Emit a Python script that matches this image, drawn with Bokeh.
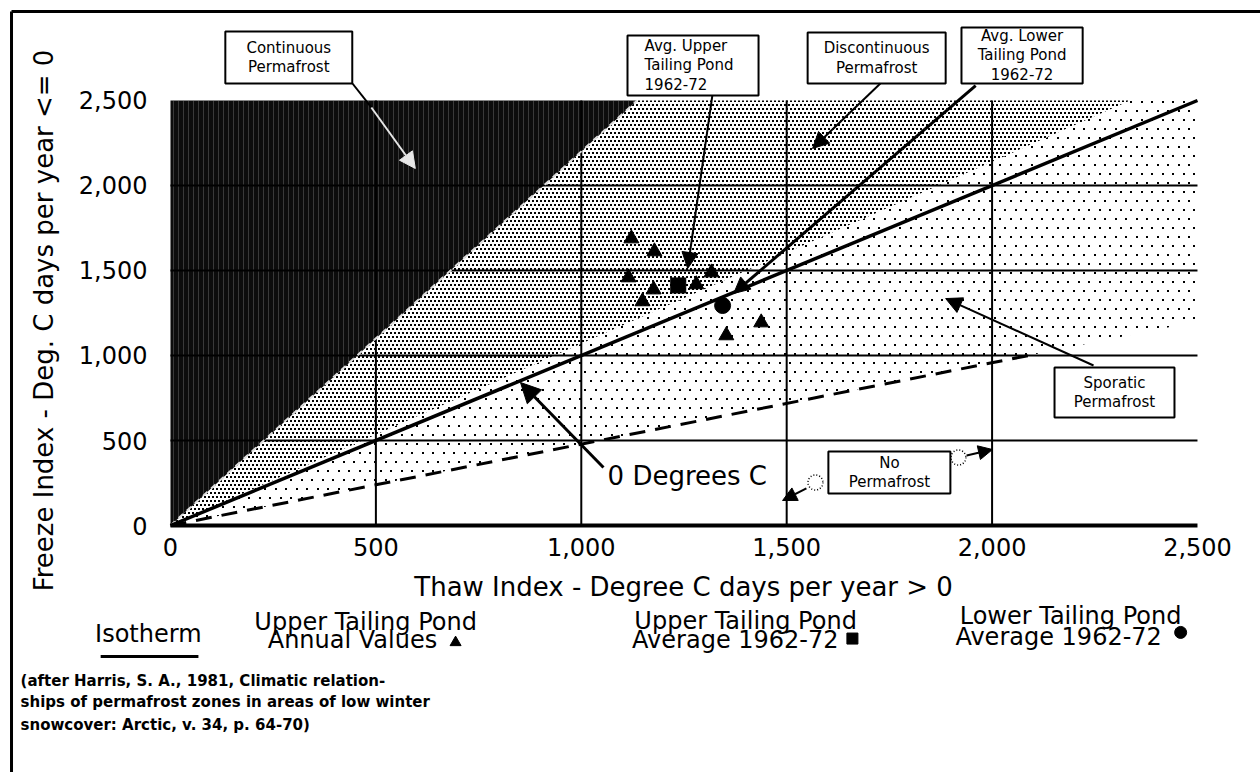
import math
import base64
import struct
import zlib
from bokeh.plotting import figure
from bokeh.models import Arrow, NormalHead, FixedTicker, NumeralTickFormatter, ImageURLTexture
from bokeh.core.properties import value
from bokeh.embed import file_html
from bokeh.resources import INLINE

FONT = "DejaVu Sans"

# ---------------- data ----------------
axis_ticks = [0, 500, 1000, 1500, 2000, 2500]
grid_values = [500, 1000, 1500, 2000]
axis_max = 2500

# Upper tailing pond annual values (thaw index, freeze index)
annual_thaw = [1122, 1178, 1115, 1176, 1149, 1280, 1317, 1438, 1353]
annual_freeze = [1688, 1612, 1459, 1388, 1318, 1418, 1488, 1194, 1118]
# averages 1962-72
upper_avg_thaw = [1236]
upper_avg_freeze = [1412]
lower_avg_thaw = [1344]
lower_avg_freeze = [1294]

# 0 degree C isotherm
isotherm_thaw = [0, 2500]
isotherm_freeze = [0, 2500]

# permafrost zones
continuous_thaw = [0, 0, 1136]
continuous_freeze = [0, 2500, 2500]
discontinuous_thaw = [0, 1136, 2336]
discontinuous_freeze = [0, 2500, 2500]
sporadic_thaw = [0, 2336, 2500, 2500, 2110]
sporadic_freeze = [0, 2500, 2500, 1200, 1010]
no_pf_thaw = [0, 2110]
no_pf_freeze = [0, 1010]


# ---------------- dot textures (small PNG tiles) ----------------
def dot_tile(w, h, dots, size):
    rows = []
    for yy in range(h):
        row = bytearray()
        for xx in range(w):
            on = any(dx <= xx < dx + size and dy <= yy < dy + size for dx, dy in dots)
            row += bytes([0, 0, 0, 255]) if on else bytes([0, 0, 0, 0])
        rows.append(b"\x00" + bytes(row))
    raw = b"".join(rows)

    def chunk(tag, data):
        return (struct.pack(">I", len(data)) + tag + data +
                struct.pack(">I", zlib.crc32(tag + data) & 0xFFFFFFFF))

    png = (b"\x89PNG\r\n\x1a\n" +
           chunk(b"IHDR", struct.pack(">IIBBBBB", w, h, 8, 6, 0, 0, 0)) +
           chunk(b"IDAT", zlib.compress(raw)) + chunk(b"IEND", b""))
    return "data:image/png;base64," + base64.b64encode(png).decode()


sparse_tex = ImageURLTexture(url=dot_tile(21, 18, [(2, 2), (12, 2), (7, 11), (17, 11)], 2))
dense_tex = ImageURLTexture(url=dot_tile(8, 8, [(0, 0), (4, 0), (2, 4), (6, 4)], 2))

# ---------------- figure ----------------
# the plotting frame covers the whole page; the axes sit at thaw = 0 / freeze = 0
p = figure(width=1260, height=772, x_range=(-413.8, 2653.4), y_range=(-1452.9, 3088.2),
           min_border=0, output_backend="svg", toolbar_location=None, title=None)
p.xgrid.visible = False
p.ygrid.visible = False
p.outline_line_color = None
p.background_fill_color = "white"
p.border_fill_color = "white"

for ax in (p.xaxis[0], p.yaxis[0]):
    ax.fixed_location = 0
    ax.ticker = FixedTicker(ticks=axis_ticks)
    ax.formatter = NumeralTickFormatter(format="0,0")
    ax.axis_line_color = None
    ax.major_tick_line_color = None
    ax.minor_tick_line_color = None
    ax.major_tick_out = 0
    ax.major_tick_in = 0
    ax.minor_tick_out = 0
    ax.minor_tick_in = 0
    ax.major_label_text_font = FONT
    ax.major_label_text_font_size = "24px"
    ax.major_label_text_color = "black"
p.xaxis.major_label_standoff = 12
p.yaxis.major_label_standoff = 23

# ---------------- zones ----------------
p.patch(sporadic_thaw, sporadic_freeze, fill_color="white", line_color=None,
        hatch_pattern="sparse", hatch_extra={"sparse": sparse_tex}, hatch_color="black")
p.patch(discontinuous_thaw, discontinuous_freeze, fill_color="white", line_color=None,
        hatch_pattern="dense", hatch_extra={"dense": dense_tex}, hatch_color="black")
p.patch(continuous_thaw, continuous_freeze, fill_color="#0c0c0c", line_color=None,
        hatch_pattern="vertical_line", hatch_color="#8a8a8a", hatch_scale=5,
        hatch_weight=0.6, hatch_alpha=0.6)

# grid lines (limited to the 0-2500 field)
n = len(grid_values)
p.segment(x0=grid_values, y0=[0] * n, x1=grid_values, y1=[axis_max] * n,
          line_color="black", line_width=2)
p.segment(x0=[0] * n, y0=grid_values, x1=[axis_max] * n, y1=grid_values,
          line_color="black", line_width=2)
# x axis line
p.segment(x0=[0], y0=[0], x1=[axis_max], y1=[0], line_color="black", line_width=4)

# zone boundaries
p.line([0, continuous_thaw[2]], [0, continuous_freeze[2]], line_color="#dddddd",
       line_width=2, line_dash="6 5")
p.line(no_pf_thaw, no_pf_freeze, line_color="black", line_width=3, line_dash="16 10")
p.line(isotherm_thaw, isotherm_freeze, line_color="black", line_width=3.5)

# data points
p.scatter(annual_thaw, annual_freeze, marker="triangle", size=15, color="black")
p.scatter(upper_avg_thaw, upper_avg_freeze, marker="square", size=15, color="black")
p.scatter(lower_avg_thaw, lower_avg_freeze, marker="circle", size=16, color="black")

# ---------------- axis titles ----------------
p.text([1249], [-359], text=["Thaw Index - Degree C days per year > 0"],
       text_align="center", text_baseline="middle", text_font=value(FONT),
       text_font_size="26px", text_color="black")
p.text([-307], [1206], text=["Freeze Index - Deg. C days per year <= 0"], angle=math.pi / 2,
       text_align="center", text_baseline="middle", text_font=value(FONT),
       text_font_size="26px", text_color="black")

# ---------------- callouts ----------------
box_x = [288, 1272, 1719, 2073, 2298, 1750]
box_y = [2753, 2706, 2750, 2765, 782, 312]
box_w = [309, 319, 336, 295, 292, 297]
box_h = [306, 353, 300, 329, 294, 247]
p.rect(box_x, box_y, box_w, box_h, fill_color="white", line_color="black", line_width=2)

center_texts = ["Continuous\nPermafrost", "Discontinuous\nPermafrost",
                "Avg. Lower\nTailing Pond\n1962-72", "Sporatic\nPermafrost",
                "No\nPermafrost"]
p.text([288, 1719, 2073, 2298, 1750], [2753, 2750, 2765, 782, 312], text=center_texts,
       text_align="center", text_baseline="middle", text_font=value(FONT),
       text_font_size="15px", text_line_height=1.1, text_color="black")
p.text([1154], [2706], text=["Avg. Upper\nTailing Pond\n1962-72"], text_align="left",
       text_baseline="middle", text_font=value(FONT), text_font_size="15px",
       text_line_height=1.1, text_color="black")
p.text([1064], [294], text=["0 Degrees C"], text_align="left", text_baseline="middle",
       text_font=value(FONT), text_font_size="26px", text_color="black")

# dotted circles at the "No Permafrost" arrows
p.scatter([1570, 1918], [253, 400], marker="circle", size=15, fill_color=None,
          line_color="black", line_width=1.5, line_dash="1 2")

# leader line for continuous permafrost
p.line([443, 489], [2600, 2459], line_color="black", line_width=2)


def arrow(x0, y0, x1, y1, color="black", width=2, size=16):
    p.add_layout(Arrow(end=NormalHead(size=size, fill_color=color, line_color=color),
                       x_start=x0, y_start=y0, x_end=x1, y_end=y1,
                       line_color=color, line_width=width))


arrow(489, 2459, 596, 2100, color="#e6e6e6", width=2)
arrow(1319, 2529, 1259, 1512)
arrow(1728, 2600, 1563, 2218)
arrow(1960, 2588, 1371, 1365, width=3)
arrow(2247, 941, 1887, 1335)
arrow(1548, 218, 1490, 147, size=14)
arrow(1938, 412, 2001, 447, size=14)
arrow(1054, 341, 852, 841, width=3, size=20)

# ---------------- legend ----------------
legend_text_x = [-54, 475, 443, 1400, 1375, 2191, 2162]
legend_text_y = [-641, -565, -676, -559, -671, -535, -653]
legend_texts = ["Isotherm", "Upper Tailing Pond", "Annual Values", "Upper Tailing Pond",
                "Average 1962-72", "Lower Tailing Pond", "Average 1962-72"]
p.text(legend_text_x, legend_text_y, text=legend_texts, text_align="center",
       text_baseline="middle", text_font=value(FONT), text_font_size="24px",
       text_color="black")
p.segment(x0=[-170], y0=[-771], x1=[68], y1=[-771], line_color="black", line_width=3)
p.scatter([694], [-688], marker="triangle", size=11, color="black")
p.scatter([1660], [-665], marker="square", size=11, color="black")
p.scatter([2459], [-629], marker="circle", size=12, color="black")

# ---------------- citation ----------------
citation = ["(after Harris, S. A., 1981, Climatic relation-",
            "ships of permafrost zones in areas of low winter",
            "snowcover:  Arctic, v. 34, p. 64-70)"]
p.text([-365] * 3, [-912, -1041, -1176], text=citation, text_align="left",
       text_baseline="middle", text_font=value("DejaVu Sans"),
       text_font_style="bold", text_font_size="15px", text_color="black")

# ---------------- page frame (top and left border) ----------------
p.segment(x0=[-387, -387], y0=[3023, 3023], x1=[2653, -387], y1=[3023, -1453],
          line_color="black", line_width=3)

open("out.html", "w").write(file_html(p, INLINE))
